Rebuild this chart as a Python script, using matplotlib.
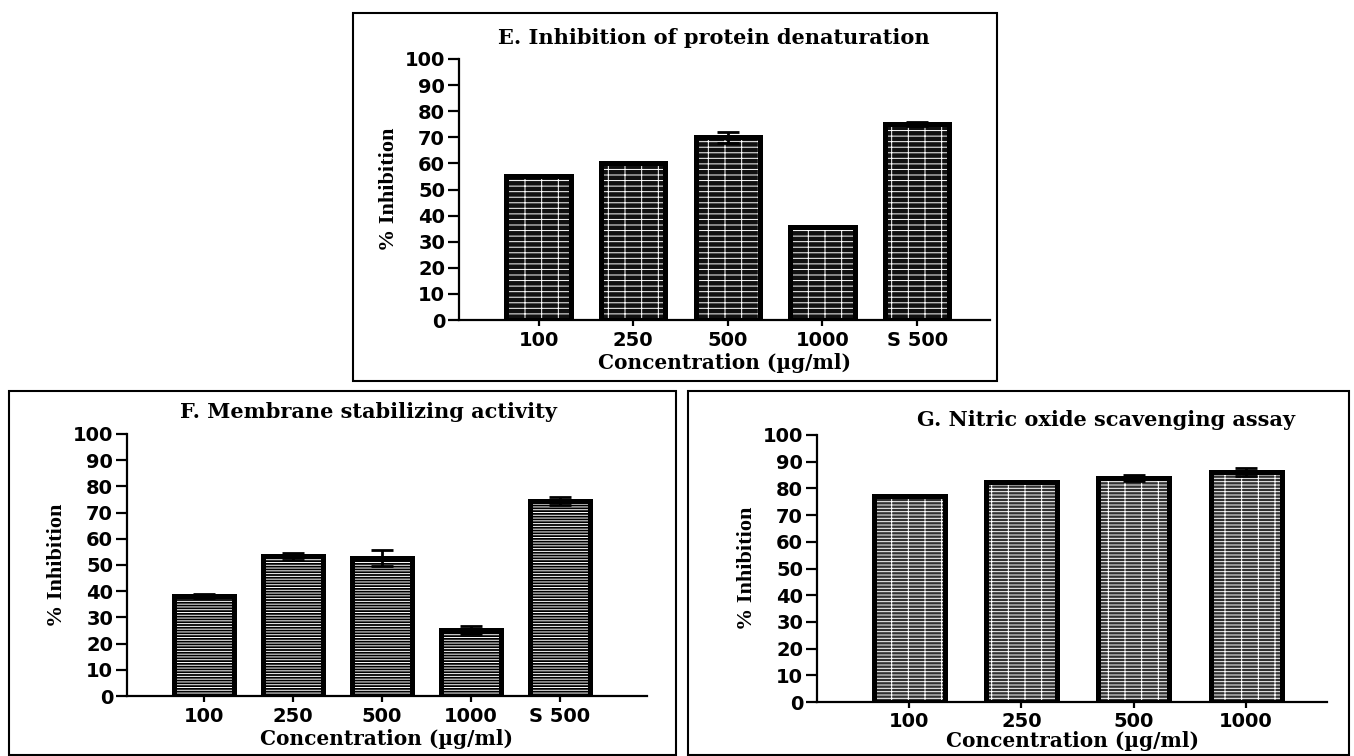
import matplotlib
matplotlib.use("Agg")
import matplotlib.pyplot as plt
from matplotlib.patches import Rectangle

W, H = 1354, 756

# panel E
e_labels = ["100", "250", "500", "1000", "S 500"]
e_values = [55, 60, 70, 35.7, 75]
e_errors = [0, 0, 2, 0, 0.7]

# panel F
f_labels = ["100", "250", "500", "1000", "S 500"]
f_values = [38.2, 53.3, 52.8, 25.2, 74.5]
f_errors = [0.8, 1.4, 3, 1.4, 1.5]

# panel G
g_labels = ["100", "250", "500", "1000"]
g_values = [77, 82.5, 84, 86]
g_errors = [0, 0, 1.2, 1.5]

yticks = list(range(0, 101, 10))

plt.rcParams['font.weight'] = 'bold'
plt.rcParams['hatch.linewidth'] = 0.7

serif = ['DejaVu Serif']
label_serif = ['Liberation Serif', 'DejaVu Serif']


def px_box(left, top, right, bottom):
    return [left / W, 1 - bottom / H, (right - left) / W, (bottom - top) / H]


def draw_panel(fig, rect, labels, values, errors, xlim, width, face, hatch,
               xpad=2, tpad=4):
    ax = fig.add_axes(rect)
    x = list(range(len(labels)))
    ax.bar(x, values, width=width, color=face, edgecolor='white',
           hatch=hatch, linewidth=0, zorder=2)
    ax.bar(x, values, width=width, fill=False, edgecolor='black',
           linewidth=3.6, zorder=3)
    ax.errorbar(x, values, yerr=errors, fmt='none', ecolor='black',
                elinewidth=2, capsize=8, capthick=2, zorder=4)
    ax.set_xlim(*xlim)
    ax.set_ylim(0, 100)
    ax.set_yticks(yticks)
    ax.set_xticks(x)
    ax.set_xticklabels(labels)
    for s in ['top', 'right']:
        ax.spines[s].set_visible(False)
    for s in ['left', 'bottom']:
        ax.spines[s].set_linewidth(1.6)
    ax.tick_params(axis='y', length=8, width=1.6, pad=2, labelsize=14)
    ax.tick_params(axis='x', length=4, width=1.6, pad=tpad, labelsize=14)
    ax.set_xlabel("Concentration (\u00b5g/ml)", family=serif, fontsize=14.5,
                  fontweight='bold', labelpad=xpad)
    ax.set_ylabel("% Inhibition", family=label_serif, fontsize=16,
                  fontweight='bold', labelpad=4)
    return ax


fig = plt.figure(figsize=(W / 100, H / 100), dpi=100)

# frames round the panels
for box in [(353, 13, 997, 381), (9, 391, 676, 755), (688, 391, 1349, 755)]:
    fig.add_artist(Rectangle((box[0] / W, 1 - box[3] / H),
                             (box[2] - box[0]) / W, (box[3] - box[1]) / H,
                             transform=fig.transFigure, fill=False,
                             edgecolor='black', linewidth=1.5))

draw_panel(fig, px_box(459, 59, 990, 320), e_labels, e_values, e_errors,
           (-0.84, 4.77), 0.68, '#101010', '---|')
draw_panel(fig, px_box(127, 434, 647, 696), f_labels, f_values, f_errors,
           (-0.865, 4.98), 0.67, 'black', '------')
draw_panel(fig, px_box(817, 435, 1327, 702), g_labels, g_values, g_errors,
           (-0.82, 3.72), 0.63, '#303030', '-----|', xpad=0, tpad=3)

fig.text(714 / W, 1 - 38 / H, "E. Inhibition of protein denaturation",
         family=serif, fontsize=15, fontweight='bold', ha='center', va='center')
fig.text(368 / W, 1 - 412 / H, "F. Membrane stabilizing activity",
         family=serif, fontsize=15, fontweight='bold', ha='center', va='center')
fig.text(1106 / W, 1 - 420 / H, "G. Nitric oxide scavenging assay",
         family=serif, fontsize=15, fontweight='bold', ha='center', va='center')

fig.savefig('out.png', dpi=100)
